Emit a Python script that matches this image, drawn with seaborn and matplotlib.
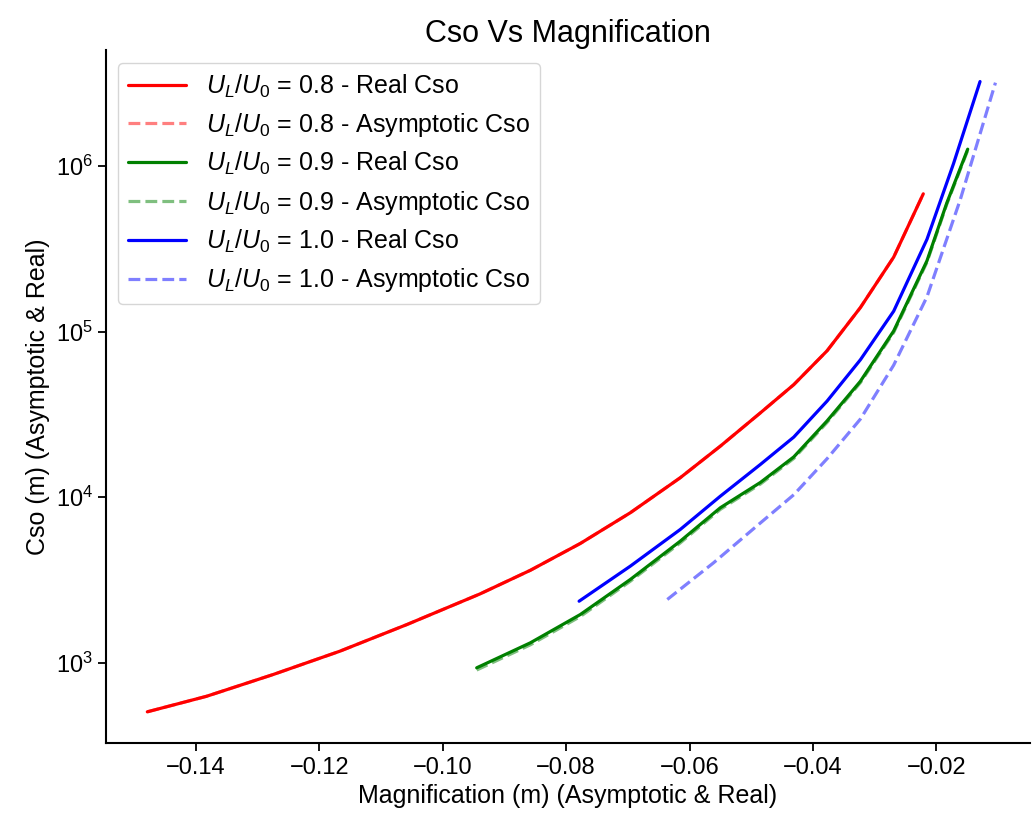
import numpy as np
import pandas as pd
import matplotlib
matplotlib.use("Agg")
import matplotlib.pyplot as plt
import matplotlib.ticker as mticker
import seaborn as sns

# Set visual style
sns.set_style("ticks")
plt.rcParams['font.family'] = ['Liberation Sans', 'DejaVu Sans']
plt.rcParams['mathtext.fontset'] = 'custom'
plt.rcParams['mathtext.rm'] = 'Liberation Sans'
plt.rcParams['mathtext.it'] = 'Liberation Sans:italic'
plt.rcParams['axes.unicode_minus'] = True
for key in ['text.color', 'axes.labelcolor', 'xtick.color', 'ytick.color', 'axes.edgecolor']:
    plt.rcParams[key] = 'black'

# Values
ratios = ['0.8', '0.9', '1.0']
colors = ['red', 'green', 'blue']

m_08 = [-0.1479, -0.1383, -0.1275, -0.1167, -0.1058, -0.0940, -0.0858, -0.0777, -0.0696,
        -0.0615, -0.0550, -0.0485, -0.0431, -0.0377, -0.0323, -0.0269, -0.0221]
cso_real_08 = [506, 628, 850, 1175, 1704, 2604, 3622, 5260, 8060,
               13120, 20360, 32360, 47860, 76640, 139800, 282000, 680000]
cso_asym_08 = [506, 628, 850, 1175, 1704, 2604, 3622, 5260, 8060,
               13120, 20360, 32360, 47860, 76640, 139800, 282000, 680000]

m_09 = [-0.0945, -0.0858, -0.0777, -0.0696, -0.0615, -0.0550, -0.0485,
        -0.0431, -0.0377, -0.0323, -0.0269, -0.0215, -0.0183, -0.0149]
cso_real_09 = [933, 1321, 1958, 3186, 5430, 8643, 12290,
               17520, 28910, 50150, 101000, 268200, 597000, 1265000]
cso_asym_09 = [905, 1285, 1905, 3110, 5300, 8450, 12020,
               17150, 28300, 49200, 99000, 263000, 587000, 1245000]

m_10_real = [-0.0779, -0.0696, -0.0615, -0.0550, -0.0485, -0.0431, -0.0377,
             -0.0323, -0.0269, -0.0215, -0.0172, -0.0129]
cso_real_10 = [2356, 3835, 6388, 10150, 15790, 23080, 38080,
               67640, 133000, 361600, 1035000, 3240000]
m_10_asym = [-0.0636, -0.0561, -0.0488, -0.0431, -0.0377, -0.0323, -0.0269,
             -0.0215, -0.0161, -0.0104]
cso_asym_10 = [2413, 4020, 6850, 10350, 17090, 29650, 62780,
               162500, 628000, 3190000]

series = [
    (m_08, cso_real_08, m_08, cso_asym_08),
    (m_09, cso_real_09, m_09, cso_asym_09),
    (m_10_real, cso_real_10, m_10_asym, cso_asym_10),
]

fig = plt.figure(figsize=(10.33, 8.23), dpi=100)
ax = fig.add_axes([0.1026, 0.0968, 0.8945, 0.8424])

for ratio, color, (mr, cr, ma, ca) in zip(ratios, colors, series):
    real_df = pd.DataFrame({'m': mr, 'cso': cr})
    asym_df = pd.DataFrame({'m': ma, 'cso': ca})
    sns.lineplot(data=real_df, x='m', y='cso', color=color, linewidth=2.3,
                 label=f'$U_L/U_0$ = {ratio} - Real Cso', ax=ax, sort=False)
    sns.lineplot(data=asym_df, x='m', y='cso', color=color, linewidth=2.3, alpha=0.5,
                 linestyle='--', label=f'$U_L/U_0$ = {ratio} - Asymptotic Cso', ax=ax, sort=False)

ax.set_yscale('log')
ax.yaxis.set_minor_locator(mticker.NullLocator())
ax.set_xlim(-0.1546, -0.0048)
ax.set_xticks([-0.14, -0.12, -0.10, -0.08, -0.06, -0.04, -0.02])
ax.tick_params(labelsize=17, length=6, width=1.3)
for s in ['left', 'bottom']:
    ax.spines[s].set_linewidth(1.5)
sns.despine(ax=ax)

ax.set_title('Cso Vs Magnification', fontsize=22)
ax.set_xlabel('Magnification (m) (Asymptotic & Real)', fontsize=18)
ax.set_ylabel('Cso (m) (Asymptotic & Real)', fontsize=18)
ax.legend(loc='upper left', fontsize=18, handlelength=2.3, labelspacing=0.45, frameon=True)

plt.savefig('out.png', dpi=100)
plt.close()
